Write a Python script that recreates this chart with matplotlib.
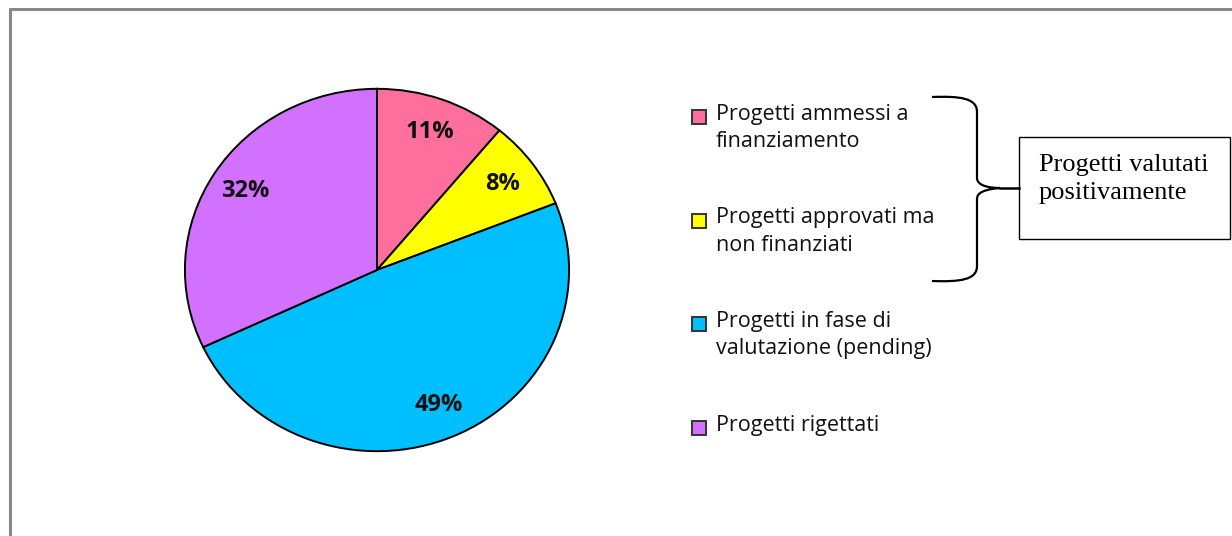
import matplotlib.pyplot as plt
from matplotlib.path import Path
from matplotlib.patches import PathPatch, Rectangle
from matplotlib.lines import Line2D

# dati
etichette = [
    "Progetti ammessi a\nfinanziamento",
    "Progetti approvati ma\nnon finanziati",
    "Progetti in fase di\nvalutazione (pending)",
    "Progetti rigettati",
]
valori = [11, 8, 49, 32]
colori = ["#FF6F9E", "#FFFF00", "#00BFFF", "#D270FF"]
nota = "Progetti valutati\npositivamente"

W, H = 1232, 536
fig = plt.figure(figsize=(W / 100, H / 100), dpi=100)

# cornice grigia (tagliata a destra e in basso come nell'originale)
fig.add_artist(Line2D([9 / W, 1.0], [1 - 8.5 / H, 1 - 8.5 / H], color="#888888",
                      lw=2.2, solid_capstyle="butt"))
fig.add_artist(Line2D([9.5 / W, 9.5 / W], [0.0, 1 - 7.5 / H], color="#888888",
                      lw=2.2, solid_capstyle="butt"))

# torta (leggermente ellittica)
ax = fig.add_axes([183 / W, 83 / H, 388 / W, 366 / H])
wedges, _, pct = ax.pie(
    valori, colors=colori, startangle=90, counterclock=False,
    autopct="%1.0f%%", pctdistance=0.81,
    wedgeprops=dict(edgecolor="black", linewidth=1.4),
    textprops=dict(fontsize=17, fontweight="bold", family="Open Sans", color="#111111"),
)
ax.set_aspect("auto")
ax.set_xlim(-1.01, 1.01)
ax.set_ylim(-1.01, 1.01)

# overlay in coordinate pixel per legenda, parentesi e riquadro
ov = fig.add_axes([0, 0, 1, 1])
ov.set_xlim(0, W)
ov.set_ylim(H, 0)
ov.axis("off")

y0, passo = 117, 103.5
for i, (lab, col) in enumerate(zip(etichette, colori)):
    y = y0 + i * passo
    ov.add_patch(Rectangle((692, y - 7), 14, 14, facecolor=col, edgecolor="#333333", lw=1.4))
    ov.text(716, y - 13, lab, fontsize=15.5, family="Open Sans", color="#111111",
            va="top", ha="left", linespacing=1.4)

# parentesi graffa
verts = [
    (932, 97), (960, 96), (977, 98), (977, 112),
    (977, 178),
    (977, 186), (990, 188), (1000, 188),
    (977, 190), (977, 196), (977, 200),
    (977, 266),
    (977, 280), (960, 282), (932, 281),
]
codes = [Path.MOVETO, Path.CURVE4, Path.CURVE4, Path.CURVE4,
         Path.LINETO,
         Path.CURVE4, Path.CURVE4, Path.CURVE4,
         Path.CURVE4, Path.CURVE4, Path.CURVE4,
         Path.LINETO,
         Path.CURVE4, Path.CURVE4, Path.CURVE4]
ov.add_patch(PathPatch(Path(verts, codes), facecolor="none", edgecolor="black", lw=1.6))
ov.plot([1000, 1019], [188, 188], color="black", lw=1.8)

# riquadro
ov.add_patch(Rectangle((1019, 137), 211, 102, facecolor="white", edgecolor="black", lw=1.0))
ov.text(1039, 154, nota, fontsize=19, family="Liberation Serif", color="black",
        va="top", ha="left", linespacing=1.35)

fig.savefig("out.png", dpi=100, facecolor="white")
